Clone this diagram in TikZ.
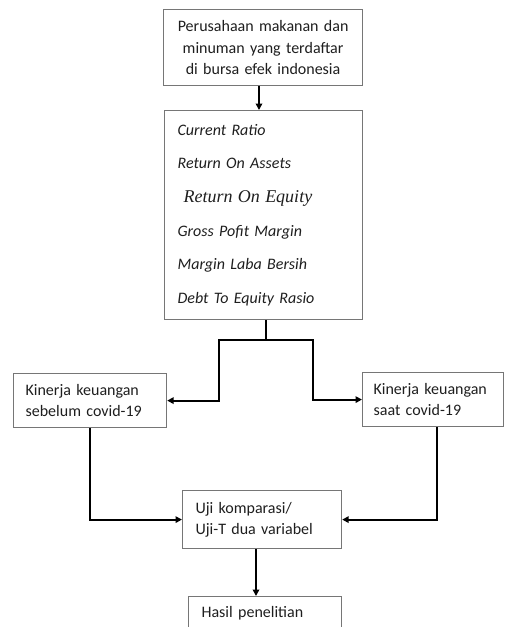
\documentclass[tikz,border=0pt]{standalone}
\usepackage{fontspec}
\setmainfont{Carlito}
\newfontfamily\eqfont{Liberation Serif}
\usetikzlibrary{arrows.meta,calc}
\definecolor{boxgray}{RGB}{118,118,118}
\definecolor{textgray}{RGB}{30,30,30}
\begin{document}
\begin{tikzpicture}[x=1pt,y=-1pt,
  box/.style={draw=boxgray,line width=1.2pt,inner xsep=12pt,inner ysep=0pt,
    align=left,font=\fontsize{16}{21.5}\selectfont,text=textgray,anchor=north west},
  conn/.style={line width=1.8pt,black},
  arr/.style={conn,-{Triangle[length=6.5pt,width=6.5pt]}}]
\useasboundingbox (0,0) rectangle (504,627);
\clip (0,0) rectangle (504,627);

\node[box,align=center,text width=175pt,minimum height=76pt] (top) at (163,9)
  {Perusahaan makanan dan\\minuman yang terdaftar\\di bursa efek indonesia};
\node[box,inner xsep=13pt,text width=172pt,minimum height=209pt,
  font=\fontsize{16}{33.6}\selectfont\itshape] (mid) at (164,110)
  {Current Ratio\\Return On Assets\\\hspace*{6pt}{\eqfont\fontsize{18}{33.6}\selectfont\itshape Return On Equity}\\Gross Pofit Margin\\Margin Laba Bersih\\Debt To Equity Rasio};
\node[box,text width=129pt,minimum height=54pt] (left) at (13,373)
  {Kinerja keuangan\\sebelum covid-19};
\node[box,inner xsep=11pt,text width=119pt,minimum height=54pt] (right) at (362,372)
  {Kinerja keuangan\\saat covid-19};
\node[box,inner xsep=13pt,text width=133pt,minimum height=58pt] (uji) at (182,490)
  {Uji komparasi/\\Uji-T dua variabel};
\node[box,inner xsep=13pt,text width=127pt,minimum height=34pt] (hasil) at (188,596)
  {Hasil penelitian};

\coordinate (c1) at (259,0);
\coordinate (c2) at (266,340);
\coordinate (sl) at (219,340);
\coordinate (sr) at (313,340);
\coordinate (c3) at (437,0);
\coordinate (c4) at (256,0);

\draw[arr] (top.south -| c1) -- (mid.north -| c1);
\draw[conn] (mid.south -| c2) -- (c2);
\draw[arr] (c2) -- (sl) |- (left.east);
\draw[arr] (c2) -- (sr) |- (right.west);
\draw[arr] (left.south) |- (uji.west);
\draw[arr] (right.south -| c3) |- (uji.east);
\draw[arr] (uji.south -| c4) -- (hasil.north -| c4);
\end{tikzpicture}
\end{document}
